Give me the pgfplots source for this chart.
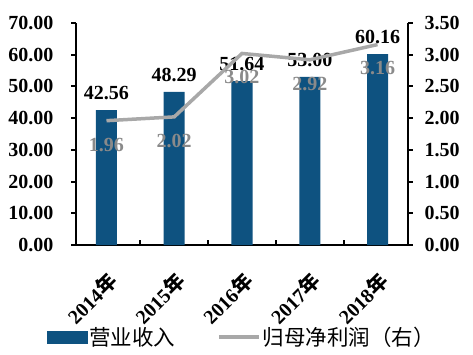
\documentclass[border=0pt]{standalone}
\usepackage{fontspec}
\setmainfont{Liberation Serif}
\newfontfamily\cjk{Noto Sans CJK SC}
\usepackage{pgfplots}
\pgfplotsset{compat=1.18}
\definecolor{barblue}{HTML}{0E5280}
\definecolor{linegray}{HTML}{A8A8A8}
\definecolor{labgray}{HTML}{8A8A8A}
\newcommand{\bigf}{\fontsize{20}{24}\selectfont\bfseries}
\begin{document}
\begin{tikzpicture}[x=1pt,y=1pt]
\useasboundingbox (-76,-109) rectangle (397,245);
\begin{axis}[
  at={(0,0)}, anchor=south west,
  scale only axis, width=332pt, height=222pt,
  xmin=-0.45, xmax=4.45, ymin=0, ymax=70,
  enlargelimits=false,
  axis x line*=bottom, axis y line*=left,
  axis line style={line width=2pt,-},
  xtick={0,1,2,3,4},
  xticklabels={{2014{\cjk\bfseries 年}},{2015{\cjk\bfseries 年}},{2016{\cjk\bfseries 年}},{2017{\cjk\bfseries 年}},{2018{\cjk\bfseries 年}}},
  major x tick style={draw=none},
  minor xtick={0.5,1.5,2.5,3.5},
  minor x tick style={line width=2pt,black},
  xtick align=inside,
  minor tick length=5pt,
  ytick={0,10,...,70},
  ytick align=outside,
  y tick style={line width=2pt,black},
  major tick length=5pt,
  yticklabel={\pgfmathprintnumber[fixed,fixed zerofill,precision=2,assume math mode=true]{\tick}},
  yticklabel style={font=\bigf, xshift=-14pt},
  xticklabel shift=24pt,
  xticklabel style={font=\fontsize{20}{24}\selectfont\bfseries, rotate=45, anchor=north east, inner sep=1pt},
]
\addplot[ybar, bar width=21pt, fill=barblue, draw=none,
  nodes near coords={\pgfmathprintnumber[fixed,fixed zerofill,precision=2,assume math mode=true]{\pgfplotspointmeta}},
  nodes near coords style={font=\bigf, text=black, yshift=7pt}]
  coordinates {(0,42.56) (1,48.29) (2,51.64) (3,53.00) (4,60.16)};
\end{axis}
\begin{axis}[
  at={(0,0)}, anchor=south west,
  scale only axis, width=332pt, height=222pt,
  xmin=-0.45, xmax=4.45, ymin=0, ymax=3.5,
  enlargelimits=false,
  axis x line=none, axis y line*=right,
  axis line style={line width=2pt,-},
  ytick={0,0.5,...,3.5},
  ytick align=outside,
  y tick style={line width=2pt,black},
  major tick length=5pt,
  yticklabel={\pgfmathprintnumber[fixed,fixed zerofill,precision=2,assume math mode=true]{\tick}},
  yticklabel style={font=\bigf, xshift=8pt},
  legend style={at={(0.499,-0.415)}, anchor=center, draw=none, fill=none,
    legend columns=2, font=\cjk\fontsize{21.5}{25}\selectfont,
    /tikz/every even column/.append style={column sep=40pt}},
]
\addlegendimage{legend image code/.code={\fill[barblue] (0pt,-6pt) rectangle (40pt,6pt);}}
\addlegendentry{营业收入}
\addplot[color=linegray, line width=3.5pt, mark=none,
  legend image code/.code={\draw[linegray, line width=3.5pt] (0pt,0pt) -- (40pt,0pt);},
  nodes near coords={\pgfmathprintnumber[fixed,fixed zerofill,precision=2,assume math mode=true]{\pgfplotspointmeta}},
  nodes near coords style={font=\bigf, text=labgray, anchor=north, yshift=-12pt}]
  coordinates {(0,1.96) (1,2.02) (2,3.02) (3,2.92) (4,3.16)};
\addlegendentry{归母净利润（右）}
\end{axis}
\end{tikzpicture}
\end{document}
